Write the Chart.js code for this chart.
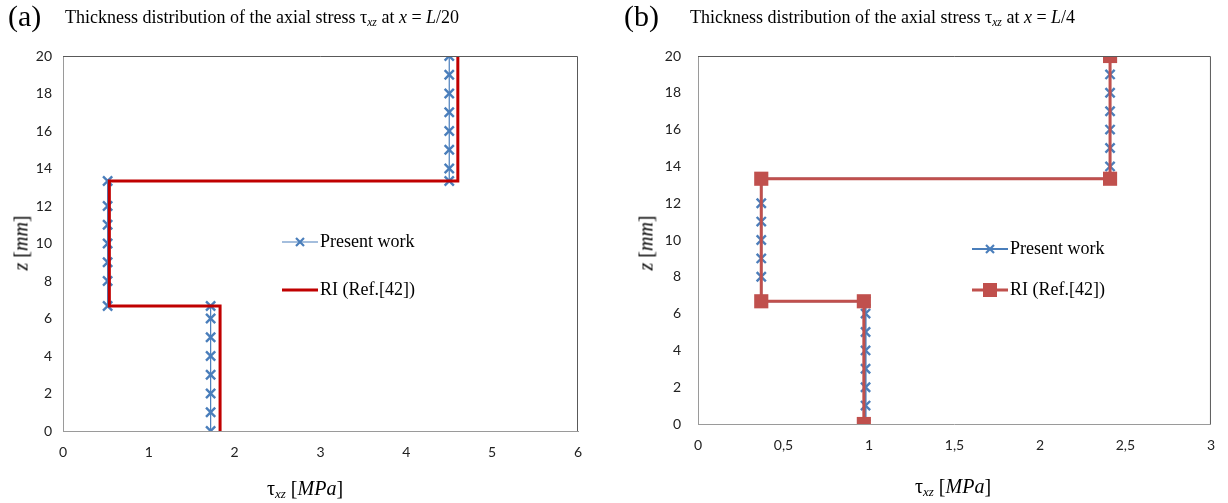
<!DOCTYPE html>
<html>
<head>
<meta charset="utf-8">
<script src="https://cdn.jsdelivr.net/npm/chart.js@4/dist/chart.umd.min.js"></script>
<style>
  body { margin:0; background:#fff; width:1228px; height:503px; position:relative; overflow:hidden; font-family:"Liberation Serif", serif; }
  .panel { position:absolute; top:0; width:614px; height:503px; }
  .panel canvas { position:absolute; left:0; top:0; }
  .lbl { position:absolute; font-size:30px; top:-1px; }
  .ttl { position:absolute; font-size:18px; top:7px; white-space:nowrap; }
  .xt { position:absolute; font-size:20px; white-space:nowrap; transform:translateX(-50%); }
  .yt { position:absolute; font-size:20px; white-space:nowrap; transform:translate(-50%,-50%) rotate(-90deg); }
  .leg { position:absolute; font-size:18px; white-space:nowrap; display:flex; align-items:center; }
  .leg svg { margin-right:2px; }
  sub { font-size:0.65em; font-style:italic; vertical-align:-3px; }
</style>
</head>
<body>
<div class="panel" style="left:0">
  <canvas id="chartA" width="614" height="503"></canvas>
  <div class="lbl" style="left:8px">(a)</div>
  <div class="ttl" style="left:65px">Thickness distribution of the axial stress τ<sub>xz</sub> at <i>x</i> = <i>L</i>/20</div>
  <div class="yt" style="left:21px;top:243px"><i>z</i> [<i>mm</i>]</div>
  <div class="xt" style="left:305px;top:477px">τ<sub>xz</sub> [<i>MPa</i>]</div>
  <div class="leg" style="left:282px;top:231px">
    <svg width="36" height="14"><line x1="0" y1="7" x2="36" y2="7" stroke="#4a7ebb" stroke-width="1.2"/><path d="M14 3 L22 11 M22 3 L14 11" stroke="#4a7ebb" stroke-width="2.2"/></svg>Present work</div>
  <div class="leg" style="left:282px;top:279px">
    <svg width="36" height="14"><line x1="0" y1="7" x2="36" y2="7" stroke="#c00000" stroke-width="3"/></svg>RI (Ref.[42])</div>
</div>
<div class="panel" style="left:614px">
  <canvas id="chartB" width="614" height="503"></canvas>
  <div class="lbl" style="left:10px">(b)</div>
  <div class="ttl" style="left:76px">Thickness distribution of the axial stress τ<sub>xz</sub> at <i>x</i> = <i>L</i>/4</div>
  <div class="yt" style="left:32px;top:243px"><i>z</i> [<i>mm</i>]</div>
  <div class="xt" style="left:339px;top:475px">τ<sub>xz</sub> [<i>MPa</i>]</div>
  <div class="leg" style="left:358px;top:238px">
    <svg width="36" height="14"><line x1="0" y1="7" x2="36" y2="7" stroke="#4a7ebb" stroke-width="2"/><path d="M14 3 L22 11 M22 3 L14 11" stroke="#4a7ebb" stroke-width="2.2"/></svg>Present work</div>
  <div class="leg" style="left:358px;top:279px">
    <svg width="36" height="14"><line x1="0" y1="7" x2="36" y2="7" stroke="#c0504d" stroke-width="3"/><rect x="11" y="0" width="14" height="14" fill="#c0504d"/></svg>RI (Ref.[42])</div>
</div>
<script>
// z positions through the thickness [mm]
const zPresent = [0, 1, 2, 3, 4, 5, 6, 6.67, 6.67, 8, 9, 10, 11, 12, 13.33, 13.33, 14, 15, 16, 17, 18, 19, 20];
const zRI = [0, 6.67, 6.67, 13.33, 13.33, 20];

// (a) x = L/20
const tauPresentA = [1.72, 1.72, 1.72, 1.72, 1.72, 1.72, 1.72, 1.72, 0.52, 0.52, 0.52, 0.52, 0.52, 0.52, 0.52, 4.50, 4.50, 4.50, 4.50, 4.50, 4.50, 4.50, 4.50];
const tauRIA = [1.83, 1.83, 0.54, 0.54, 4.60, 4.60];

// (b) x = L/4
const tauPresentB = [0.98, 0.98, 0.98, 0.98, 0.98, 0.98, 0.98, 0.98, 0.37, 0.37, 0.37, 0.37, 0.37, 0.37, 0.37, 2.41, 2.41, 2.41, 2.41, 2.41, 2.41, 2.41, 2.41];
const tauRIB = [0.97, 0.97, 0.37, 0.37, 2.41, 2.41];

const zTicks = [0, 2, 4, 6, 8, 10, 12, 14, 16, 18, 20];

const pts = (xs, ys) => xs.map((x, i) => ({ x, y: ys[i] }));

const frame = {
    id: 'frame',
    afterDraw(chart) {
        const a = chart.chartArea, c = chart.ctx;
        c.save();
        c.strokeStyle = '#595959';
        c.lineWidth = 1;
        c.beginPath();
        c.moveTo(a.left, a.top + 0.5); c.lineTo(a.right - 0.5, a.top + 0.5); c.lineTo(a.right - 0.5, a.bottom);
        c.stroke();
        c.restore();
    }
};

function makeChart(id, opts) {
    return new Chart(document.getElementById(id), {
        type: 'scatter',
        data: {
            datasets: [
                {
                    label: 'Present work',
                    data: pts(opts.present, zPresent),
                    showLine: true,
                    borderColor: '#4a7ebb',
                    borderWidth: opts.blueWidth,
                    pointStyle: 'crossRot',
                    pointRadius: 6.5,
                    pointBorderWidth: 2.4,
                    pointBorderColor: '#4a7ebb',
                    order: 1
                },
                {
                    label: 'RI (Ref.[42])',
                    data: pts(opts.ri, zRI),
                    showLine: true,
                    borderColor: opts.red,
                    backgroundColor: opts.red,
                    borderWidth: 3,
                    pointStyle: 'rect',
                    pointRadius: opts.square,
                    pointBorderWidth: 0,
                    order: 0
                }
            ]
        },
        options: {
            responsive: false,
            animation: false,
            events: [],
            layout: { padding: { left: 0, right: opts.padRight, top: 56, bottom: 0 } },
            plugins: { legend: { display: false }, tooltip: { enabled: false } },
            scales: {
                x: {
                    type: 'linear', min: 0, max: opts.xMax,
                    afterFit: s => { s.height = opts.xHeight; },
                    border: { color: '#9a9a9a' },
                    grid: { display: false, drawTicks: false },
                    ticks: {
                        stepSize: opts.xStep, padding: 13, color: '#222',
                        font: { family: 'Lato', size: 14 },
                        callback: v => String(Math.round(v * 10) / 10).replace('.', ',')
                    }
                },
                y: {
                    type: 'linear', min: 0, max: 20,
                    afterFit: s => { s.width = opts.yWidth; },
                    afterBuildTicks: s => { s.ticks = zTicks.map(v => ({ value: v })); },
                    border: { color: '#9a9a9a' },
                    grid: { display: false, drawTicks: false },
                    ticks: { padding: opts.yPad, color: '#222', font: { family: 'Lato', size: 14 } }
                }
            }
        },
        plugins: [frame]
    });
}

makeChart('chartA', { present: tauPresentA, ri: tauRIA, red: '#c00000', square: 0, blueWidth: 1.2,
    xMax: 6, xStep: 1, padRight: 36, xHeight: 72, yWidth: 63, yPad: 11 });
makeChart('chartB', { present: tauPresentB, ri: tauRIB, red: '#c0504d', square: 10, blueWidth: 2,
    xMax: 3, xStep: 0.5, padRight: 15, xHeight: 79, yWidth: 84, yPad: 17 });
</script>
</body>
</html>
